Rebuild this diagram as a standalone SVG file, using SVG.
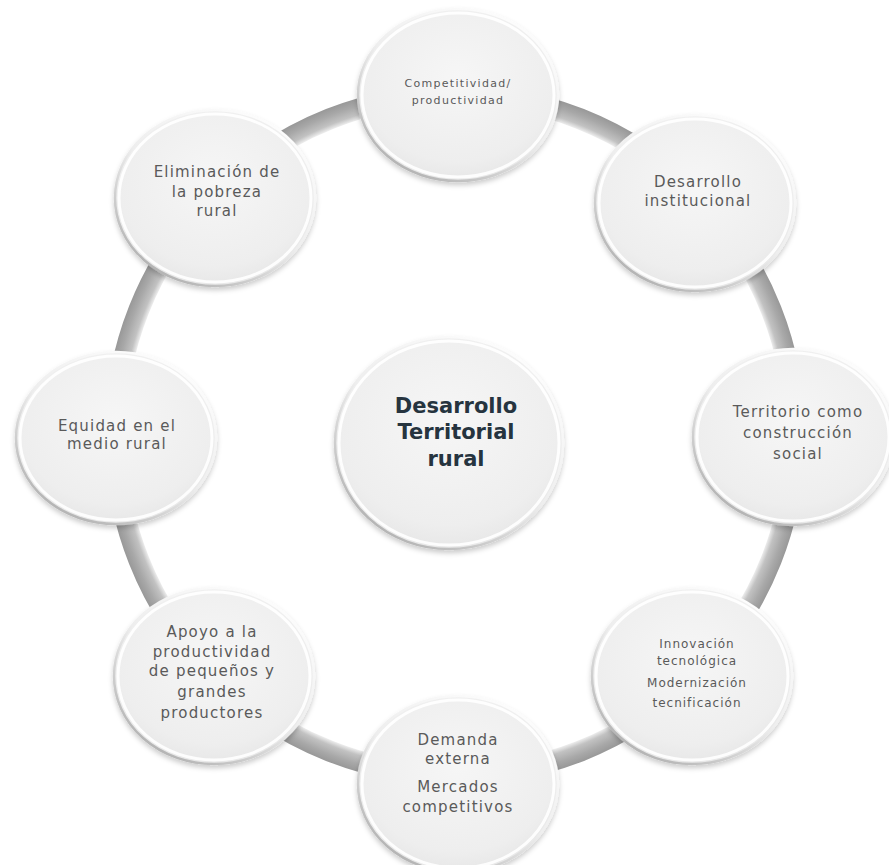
<svg xmlns="http://www.w3.org/2000/svg" width="889" height="865" viewBox="0 0 889 865">
  <defs>
    <style>
      .lbl { font-family: "DejaVu Sans", "Liberation Sans", sans-serif; font-size: 15px; fill: #5a5a5a; text-anchor: middle; letter-spacing: 1.2px; }
      .sm { font-size: 11px; letter-spacing: 1.3px; }
      .md { font-size: 12px; letter-spacing: 1px; }
      .hub { font-family: "DejaVu Sans", "Liberation Sans", sans-serif; font-size: 21px; font-weight: bold; fill: #26343f; text-anchor: middle; }
      .disc { fill: url(#discFill); stroke: url(#discRim); stroke-width: 2.5; filter: url(#soft); }
      .sheen { fill: none; stroke: #ffffff; stroke-width: 3; stroke-opacity: 0.9; }
    </style>
    <radialGradient id="discFill" cx="0.5" cy="0.4" r="0.65">
      <stop offset="0" stop-color="#f6f6f6"/>
      <stop offset="0.75" stop-color="#eeeeee"/>
      <stop offset="1" stop-color="#e4e4e4"/>
    </radialGradient>
    <linearGradient id="discRim" x1="0.85" y1="0" x2="0.15" y2="1">
      <stop offset="0" stop-color="#ffffff"/>
      <stop offset="0.5" stop-color="#eeeeee"/>
      <stop offset="1" stop-color="#a9a9a9"/>
    </linearGradient>
    <radialGradient id="tube" gradientUnits="userSpaceOnUse" cx="455" cy="435" r="352">
      <stop offset="0.935" stop-color="#f0f0f0"/>
      <stop offset="0.95" stop-color="#c2c2c2"/>
      <stop offset="0.975" stop-color="#a8a8a8"/>
      <stop offset="1" stop-color="#959595"/>
    </radialGradient>
    <filter id="soft" x="-20%" y="-20%" width="140%" height="145%">
      <feGaussianBlur in="SourceAlpha" stdDeviation="2.5"/>
      <feOffset dx="0" dy="3" result="b"/>
      <feFlood flood-color="#000000" flood-opacity="0.2"/>
      <feComposite in2="b" operator="in"/>
      <feMerge>
        <feMergeNode/>
        <feMergeNode in="SourceGraphic"/>
      </feMerge>
    </filter>
  </defs>

  <rect width="889" height="865" fill="#ffffff"/>

  <!-- ring linking the outer discs -->
  <g id="connectors">
    <circle cx="455" cy="435" r="340" fill="none" stroke="url(#tube)" stroke-width="21"/>
  </g>

  <g id="hub">
    <ellipse class="disc" cx="449" cy="443" rx="114" ry="106"/>
    <ellipse class="sheen" cx="449" cy="443" rx="110" ry="102"/>
    <text class="hub" x="456" y="413">Desarrollo</text>
    <text class="hub" x="456" y="439">Territorial</text>
    <text class="hub" x="456" y="466">rural</text>
  </g>

  <g id="competitividad">
    <ellipse class="disc" cx="458" cy="95" rx="100" ry="86"/>
    <ellipse class="sheen" cx="458" cy="95" rx="96" ry="82"/>
    <text class="lbl sm" x="458" y="87">Competitividad/</text>
    <text class="lbl sm" x="458" y="104">productividad</text>
  </g>

  <g id="institucional">
    <ellipse class="disc" cx="695" cy="203" rx="100" ry="88"/>
    <ellipse class="sheen" cx="695" cy="203" rx="96" ry="84"/>
    <text class="lbl" x="698" y="187">Desarrollo</text>
    <text class="lbl" x="698" y="206">institucional</text>
  </g>

  <g id="territorio">
    <ellipse class="disc" cx="793" cy="437" rx="100" ry="88"/>
    <ellipse class="sheen" cx="793" cy="437" rx="96" ry="84"/>
    <text class="lbl" x="798" y="417">Territorio como</text>
    <text class="lbl" x="798" y="438">construcción</text>
    <text class="lbl" x="798" y="459">social</text>
  </g>

  <g id="innovacion">
    <ellipse class="disc" cx="692" cy="676" rx="100" ry="88"/>
    <ellipse class="sheen" cx="692" cy="676" rx="96" ry="84"/>
    <text class="lbl md" x="697" y="648">Innovación</text>
    <text class="lbl md" x="697" y="665">tecnológica</text>
    <text class="lbl md" x="697" y="687">Modernización</text>
    <text class="lbl md" x="697" y="707">tecnificación</text>
  </g>

  <g id="demanda">
    <ellipse class="disc" cx="458" cy="784" rx="100" ry="88"/>
    <ellipse class="sheen" cx="458" cy="784" rx="96" ry="84"/>
    <text class="lbl" x="458" y="745">Demanda</text>
    <text class="lbl" x="458" y="764">externa</text>
    <text class="lbl" x="458" y="792">Mercados</text>
    <text class="lbl" x="458" y="812">competitivos</text>
  </g>

  <g id="apoyo">
    <ellipse class="disc" cx="214" cy="676" rx="100" ry="88"/>
    <ellipse class="sheen" cx="214" cy="676" rx="96" ry="84"/>
    <text class="lbl" x="212" y="637">Apoyo a la</text>
    <text class="lbl" x="212" y="657">productividad</text>
    <text class="lbl" x="212" y="676">de pequeños y</text>
    <text class="lbl" x="212" y="697">grandes</text>
    <text class="lbl" x="212" y="718">productores</text>
  </g>

  <g id="equidad">
    <ellipse class="disc" cx="116" cy="438" rx="100" ry="86"/>
    <ellipse class="sheen" cx="116" cy="438" rx="96" ry="82"/>
    <text class="lbl" x="117" y="431">Equidad en el</text>
    <text class="lbl" x="117" y="449">medio rural</text>
  </g>

  <g id="pobreza">
    <ellipse class="disc" cx="215" cy="198" rx="100" ry="88"/>
    <ellipse class="sheen" cx="215" cy="198" rx="96" ry="84"/>
    <text class="lbl" x="217" y="177">Eliminación de</text>
    <text class="lbl" x="217" y="197">la pobreza</text>
    <text class="lbl" x="217" y="216">rural</text>
  </g>
</svg>
